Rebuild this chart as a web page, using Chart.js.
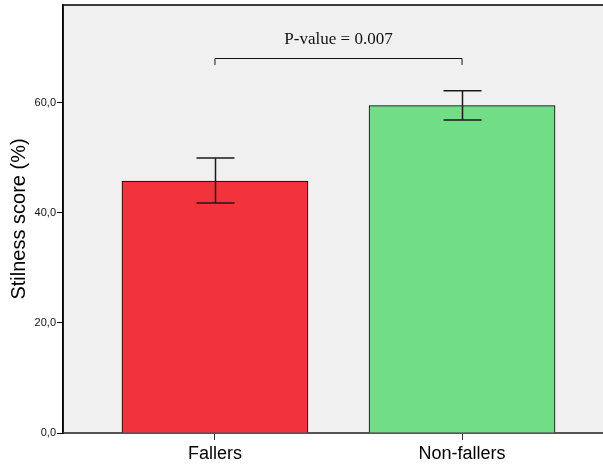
<!DOCTYPE html>
<html>
<head>
<meta charset="utf-8">
<script src="https://cdn.jsdelivr.net/npm/chart.js@4"></script>
<style>
    html, body { margin: 0; padding: 0; background: #fff; overflow: hidden; }
    #wrap { width: 620px; height: 466px; }
</style>
</head>
<body>
<div id="wrap"><canvas id="chart" width="620" height="466"></canvas></div>
<script>
// 데이터
const categories = ['Fallers', 'Non-fallers'];
const meanScores = [45.8, 59.5];
const errLow = [41.8, 56.9];
const errHigh = [50.0, 62.2];
const barColors = ['#F2333B', '#71DD87'];
const yTicks = [0, 20, 40, 60];
const pLabel = 'P-value = 0.007';
const bracketY = 68.2;
const bracketLegY = 66.9;

// 배경과 테두리
const framePlugin = {
    id: 'frame',
    beforeDraw(chart) {
        const { ctx, chartArea: a } = chart;
        ctx.save();
        ctx.fillStyle = '#F0F0F0';
        ctx.fillRect(a.left, a.top, a.right - a.left, a.bottom - a.top);
        ctx.strokeStyle = '#000';
        ctx.lineWidth = 1.5;
        ctx.beginPath();
        ctx.moveTo(a.left, a.bottom);
        ctx.lineTo(a.left, a.top);
        ctx.lineTo(a.right, a.top);
        ctx.stroke();
        ctx.restore();
    }
};

// 오차막대, 괄호, p값
const errorPlugin = {
    id: 'errors',
    afterDatasetsDraw(chart) {
        const { ctx, scales } = chart;
        const x = scales.x, y = scales.y;
        ctx.save();
        ctx.strokeStyle = '#1a1a1a';
        ctx.lineWidth = 1.5;
        categories.forEach((c, i) => {
            const px = Math.round(x.getPixelForValue(i)) + 0.5;
            const top = y.getPixelForValue(errHigh[i]);
            const bot = y.getPixelForValue(errLow[i]);
            ctx.beginPath();
            ctx.moveTo(px, top);
            ctx.lineTo(px, bot);
            ctx.moveTo(px - 19, top);
            ctx.lineTo(px + 19, top);
            ctx.moveTo(px - 19, bot);
            ctx.lineTo(px + 19, bot);
            ctx.stroke();
        });

        const x0 = x.getPixelForValue(0), x1 = x.getPixelForValue(1);
        const by = Math.round(y.getPixelForValue(bracketY)) + 0.5;
        const ly = y.getPixelForValue(bracketLegY);
        ctx.lineWidth = 1;
        ctx.strokeStyle = '#111';
        ctx.beginPath();
        ctx.moveTo(x0, ly);
        ctx.lineTo(x0, by);
        ctx.lineTo(x1, by);
        ctx.lineTo(x1, ly);
        ctx.stroke();

        ctx.fillStyle = '#111';
        ctx.font = '17px "Liberation Serif", serif';
        ctx.textAlign = 'center';
        ctx.textBaseline = 'alphabetic';
        ctx.fillText(pLabel, (x0 + x1) / 2, by - 15);
        ctx.restore();
    }
};

const ctx = document.getElementById('chart').getContext('2d');

new Chart(ctx, {
    type: 'bar',
    data: {
        datasets: [{
            data: categories.map((c, i) => ({ x: i, y: meanScores[i] })),
            backgroundColor: barColors,
            borderColor: '#000',
            borderWidth: 1,
            barThickness: 186
        }]
    },
    options: {
        responsive: false,
        animation: false,
        layout: { padding: { top: 5, right: 6, left: 0, bottom: 0 } },
        plugins: {
            legend: { display: false },
            tooltip: { enabled: false }
        },
        scales: {
            x: {
                type: 'linear',
                offset: false,
                min: -0.615,
                max: 1.615,
                afterBuildTicks(axis) {
                    axis.ticks = categories.map((c, i) => ({ value: i }));
                },
                afterFit(axis) { axis.height = 33; },
                grid: { drawOnChartArea: false, offset: false, tickLength: 7, color: '#333' },
                border: { color: '#555', width: 2 },
                ticks: {
                    padding: 3,
                    color: '#000',
                    font: { family: 'Arial, "Liberation Sans"', size: 18 },
                    callback: v => categories[v]
                }
            },
            y: {
                min: 0,
                max: 77.8,
                afterBuildTicks(axis) {
                    axis.ticks = yTicks.map(v => ({ value: v }));
                },
                afterFit(axis) {
                    axis.width = 63;
                    axis.paddingTop = 0;
                    axis.paddingBottom = 0;
                },
                grid: { drawOnChartArea: false, tickLength: 6, color: '#000' },
                border: { color: '#000', width: 1.5 },
                ticks: {
                    padding: 1,
                    color: '#111',
                    font: { family: 'Arial, "Liberation Sans"', size: 11 },
                    callback: v => v.toFixed(1).replace('.', ',')
                },
                title: {
                    display: true,
                    text: 'Stilness score (%)',
                    color: '#000',
                    padding: { top: 7, bottom: 0 },
                    font: { family: 'Arial, "Liberation Sans"', size: 20 }
                }
            }
        }
    },
    plugins: [framePlugin, errorPlugin]
});
</script>
</body>
</html>
